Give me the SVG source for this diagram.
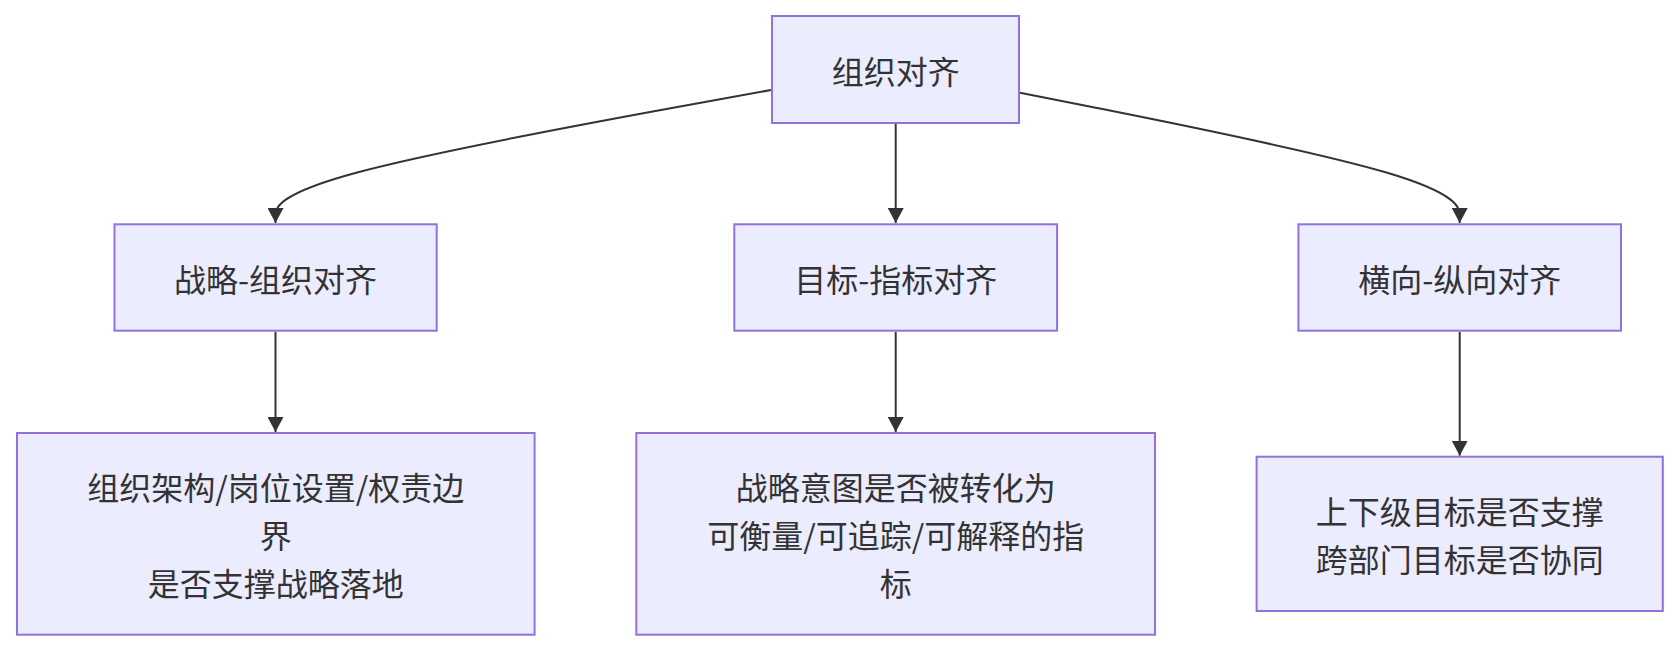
<svg xmlns="http://www.w3.org/2000/svg" width="1680" height="652" viewBox="0 0 1680 652">
<style>
.node rect{fill:#ECECFF;stroke:#9370DB;stroke-width:2}
.node text{font-family:"Noto Sans CJK SC","Noto Sans",sans-serif;font-size:32px;fill:#333333;text-anchor:middle;dominant-baseline:central}
.edges path{fill:none;stroke:#333333;stroke-width:2}
</style>
<defs>
<marker id="arrow" markerUnits="userSpaceOnUse" viewBox="0 0 15 16" refX="15" refY="8" markerWidth="15" markerHeight="16" orient="auto">
<path d="M0,0 L15,8 L0,16 z" fill="#333333"/>
</marker>
</defs>
<rect width="1680" height="652" fill="#ffffff"/>
<g class="edges">
<path d="M771,90 L688.4,105 C605.8,120 440.7,150 358.1,172.2 C275.5,194.3 275.5,208.7 275.5,216 L275.5,223" marker-end="url(#arrow)"/>
<path d="M895.7,124 L895.7,223" marker-end="url(#arrow)"/>
<path d="M1020,92.7 L1093.3,107.2 C1166.6,121.8 1313.1,150.8 1386.4,172.5 C1459.7,194.2 1459.7,208.7 1459.7,216 L1459.7,223" marker-end="url(#arrow)"/>
<path d="M275.5,332 L275.5,432" marker-end="url(#arrow)"/>
<path d="M895.7,332 L895.7,432" marker-end="url(#arrow)"/>
<path d="M1459.7,332 L1459.7,455.7" marker-end="url(#arrow)"/>
</g>
<g id="A" class="node">
<rect x="772" y="16" width="247" height="107"/>
<text x="895.7" y="69.5">组织对齐</text>
</g>
<g id="B" class="node">
<rect x="114.5" y="224.3" width="322.2" height="106.4"/>
<text x="275.5" y="277.5">战略-组织对齐</text>
</g>
<g id="C" class="node">
<rect x="734.3" y="224.3" width="322.8" height="106.4"/>
<text x="895.7" y="277.5">目标-指标对齐</text>
</g>
<g id="D" class="node">
<rect x="1298.4" y="224.3" width="322.6" height="106.4"/>
<text x="1459.7" y="277.5">横向-纵向对齐</text>
</g>
<g id="E" class="node">
<rect x="17" y="433" width="517.6" height="201.7"/>
<text x="275.8" y="486">组织架构/岗位设置/权责边</text>
<text x="275.8" y="534">界</text>
<text x="275.8" y="582">是否支撑战略落地</text>
</g>
<g id="F" class="node">
<rect x="636.3" y="433" width="518.7" height="201.7"/>
<text x="895.7" y="486">战略意图是否被转化为</text>
<text x="895.7" y="534">可衡量/可追踪/可解释的指</text>
<text x="895.7" y="582">标</text>
</g>
<g id="G" class="node">
<rect x="1256.6" y="456.7" width="406.2" height="154.3"/>
<text x="1459.7" y="510">上下级目标是否支撑</text>
<text x="1459.7" y="558">跨部门目标是否协同</text>
</g>
</svg>
